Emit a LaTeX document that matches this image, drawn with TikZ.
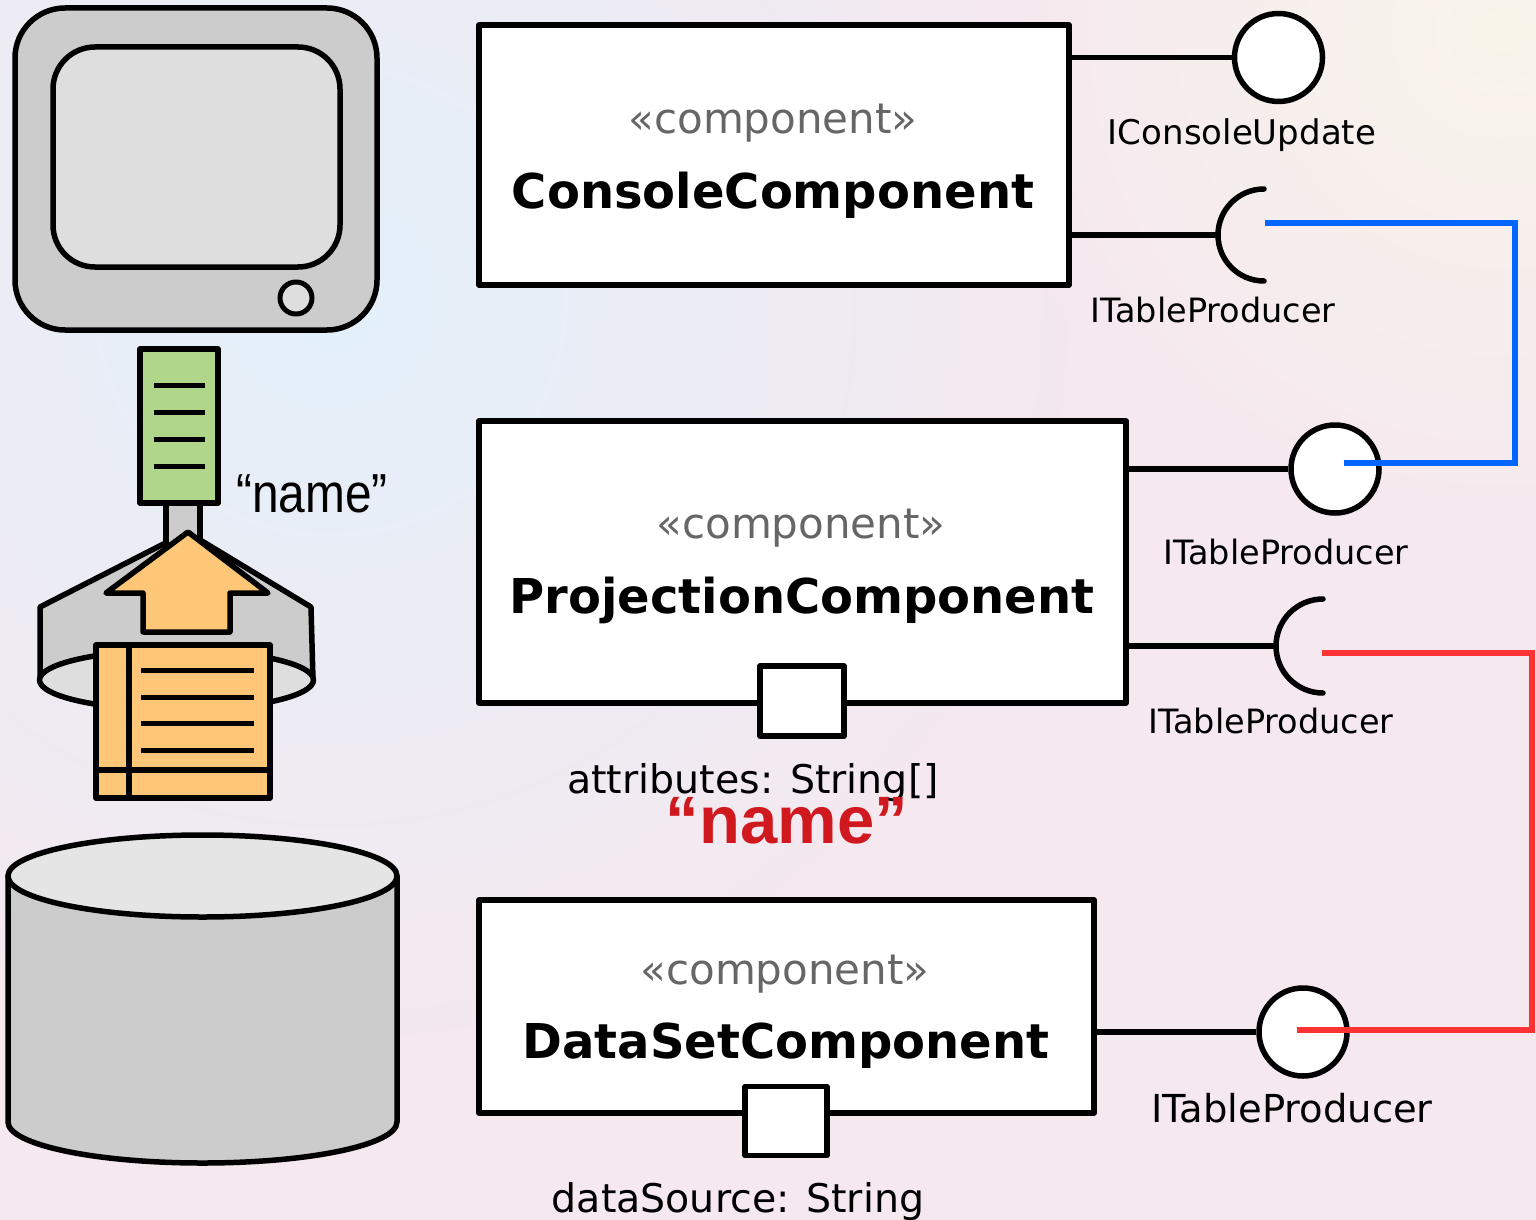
\documentclass[tikz,border=0pt]{standalone}
\usepackage{fontspec}
\setmainfont{DejaVu Sans}
\newfontfamily\arialfont{Liberation Sans}
\usetikzlibrary{calc}

\definecolor{bgpink}{HTML}{F5E8EF}
\definecolor{bgblue}{HTML}{E3F0FA}
\definecolor{bgcream}{HTML}{F8F4EA}
\definecolor{boxgray}{HTML}{CCCCCC}
\definecolor{lightgray}{HTML}{DEDEDE}
\definecolor{leafgreen}{HTML}{B0D68A}
\definecolor{paperorange}{HTML}{FDC777}
\definecolor{stereo}{HTML}{666666}
\definecolor{wireblue}{HTML}{0066FF}
\definecolor{wirered}{HTML}{FF3333}
\definecolor{namered}{HTML}{D0181F}

\tikzset{
  outline/.style={draw=black, line width=5.5pt, line join=round},
  comp/.style={outline, fill=white, rectangle, inner sep=0pt},
  portbox/.style={outline, fill=white, rectangle, inner sep=0pt},
  ball/.style={outline, fill=white, circle, inner sep=0pt, minimum size=88pt},
  wire/.style={draw=black, line width=5.5pt},
  socketarc/.style={draw=black, line width=5.5pt, line cap=round},
  stereotxt/.style={text=stereo, font=\fontsize{42}{44}\selectfont, anchor=base, inner sep=0pt},
  nametxt/.style={font=\bfseries\fontsize{48}{50}\selectfont, anchor=base, inner sep=0pt},
  ifacetxt/.style={font=\fontsize{33.5}{36}\selectfont, anchor=base, inner sep=0pt},
  attrtxt/.style={font=\fontsize{39.5}{42}\selectfont, anchor=base, inner sep=0pt},
  bluewire/.style={draw=wireblue, line width=6.5pt},
  redwire/.style={draw=wirered, line width=6.5pt},
}

\begin{document}
\begin{tikzpicture}[x=1pt, y=-1pt]
\useasboundingbox (0,0) rectangle (1536,1220);

% soft background wash
\fill[bgpink] (0,0) rectangle (1536,1220);
\begin{scope}
  \clip (0,0) rectangle (1536,1220);
  \shade[inner color=bgblue, outer color=bgpink] (330,300) circle (760);
  \shade[inner color=bgcream, outer color=bgpink] (1500,30) circle (520);
\end{scope}

% ---- monitor ----
\draw[outline, fill=boxgray, rounded corners=50pt] (15,8) rectangle (377,330);
\draw[outline, fill=lightgray, rounded corners=42pt] (53,47) rectangle (340,267);
\draw[outline, line width=5pt, fill=lightgray] (296,298) circle (16);

% ---- green record with stem ----
\draw[outline, fill=boxgray] (166,500) rectangle (200,548);
\draw[outline, fill=leafgreen] (140,349) rectangle (218,503);
\foreach \yy in {385,412,439,466}
  \draw[black, line width=5pt] (154,\yy) -- (205,\yy);

% ---- funnel ring ----
\draw[outline, fill=boxgray] (40,607) -- (187,532) -- (311,607) -- (313,680) -- (40,680) -- cycle;
\draw[outline, fill=lightgray] (176.5,680) ellipse [x radius=137, y radius=30];
\draw[outline, fill=boxgray] (166,503) rectangle (200,548);

% ---- upward arrow ----
\draw[outline, fill=paperorange] (188,532) -- (268,593) -- (230,593) -- (230,632)
  -- (143,632) -- (143,593) -- (106,593) -- cycle;

% ---- orange document ----
\draw[outline, fill=paperorange] (96,645) rectangle (270,798);
\draw[black, line width=5.5pt] (129,645) -- (129,798);
\draw[black, line width=5.5pt] (96,770) -- (270,770);
\foreach \yy in {670,697,723,750}
  \draw[black, line width=5pt] (141,\yy) -- (254,\yy);

% ---- database ----
\draw[outline, fill=boxgray] (8,876) -- (8,1122)
  arc[start angle=180, end angle=0, x radius=194.5, y radius=41] -- (397,876) -- cycle;
\draw[outline, fill=lightgray!80!white] (202.5,876) ellipse [x radius=194.5, y radius=41];

% ---- components ----
\node[comp, minimum width=590pt, minimum height=260pt] (cc) at (774,155) {};
\node[stereotxt] at (773,133) {«component»};
\node[nametxt]   at (773,208) {ConsoleComponent};

\node[comp, minimum width=647pt, minimum height=282pt] (pc) at (802.5,562) {};
\node[stereotxt] at (801,538) {«component»};
\node[nametxt]   at (802,613) {ProjectionComponent};

\node[comp, minimum width=615pt, minimum height=213pt] (dc) at (786.5,1006.5) {};
\node[stereotxt] at (785,984) {«component»};
\node[nametxt]   at (786,1058) {DataSetComponent};

% ports
\node[portbox, minimum width=84pt, minimum height=70pt] (pp) at (802,701) {};
\node[attrtxt] (ppl) at (753,793) {attributes: String[]};
\node[portbox, minimum width=82pt, minimum height=69pt] (dp) at (786,1121) {};
\node[attrtxt] (dpl) at (738,1212) {dataSource: String};

% ---- interfaces of ConsoleComponent ----
\node[ball] (cu) at (1278.5,57.5) {};
\draw[wire] (cc.east |- cu) -- (cu.west);
\node[ifacetxt, font=\fontsize{34}{36}\selectfont] at (1242,145) {IConsoleUpdate};

\coordinate (cs) at (1264,235);
\draw[wire] (cc.east |- cs) -- ($(cs)+(-46,0)$);
\draw[socketarc] ($(cs)+(0,46)$) arc[start angle=90, end angle=270, radius=46];
\node[ifacetxt] at (1213,322) {ITableProducer};

% ---- interfaces of ProjectionComponent ----
\node[ball] (pb) at (1335,469) {};
\draw[wire] (pc.east |- pb) -- (pb.west);
\node[ifacetxt] at (1286,564) {ITableProducer};

\coordinate (ps) at (1323,646);
\draw[wire] (pc.east |- ps) -- ($(ps)+(-47,0)$);
\draw[socketarc] ($(ps)+(0,47)$) arc[start angle=90, end angle=270, radius=47];
\node[ifacetxt] at (1271,733) {ITableProducer};

% ---- interface of DataSetComponent ----
\node[ball] (db) at (1303,1032) {};
\draw[wire] (dc.east |- db) -- (db.west);
\node[ifacetxt, font=\fontsize{38.5}{40}\selectfont] at (1292,1122) {ITableProducer};

% ---- assembly wires ----
\coordinate (bs) at (1265,223);
\coordinate (be) at (1344,463);
\draw[bluewire] (bs) -- (1515,223) |- (be);

\coordinate (rs) at (1322,653);
\coordinate (re) at (1297,1030);
\draw[redwire] (rs) -- (1532,653) |- (re);

% ---- labels ----
\node[font=\arialfont\fontsize{55}{58}\selectfont, anchor=base west, inner sep=0pt]
  (gn) at (236,512) {\scalebox{0.87}[1]{“name”}};
\node[font=\arialfont\bfseries\fontsize{67}{69}\selectfont, text=namered, anchor=base, inner sep=0pt]
  (rn) at (787,843) {“name”};
\end{tikzpicture}
\end{document}
